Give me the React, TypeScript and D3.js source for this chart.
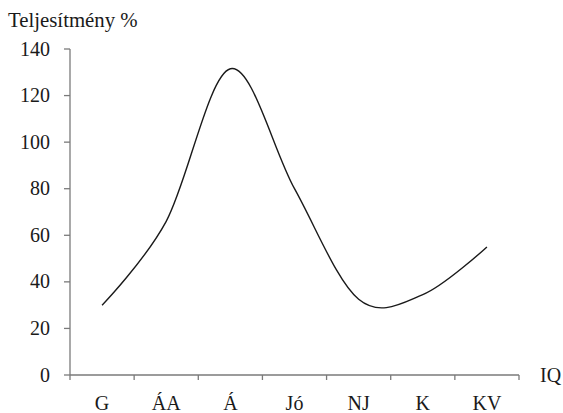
import React from "react";
import * as d3 from "d3";

const categories = ["G", "ÁA", "Á", "Jó", "NJ", "K", "KV"];
const values = [30, 66, 131.5, 80, 32.5, 34.5, 55];
const yTicks = [0, 20, 40, 60, 80, 100, 120, 140];
const yTitle = "Teljesítmény %";
const xTitle = "IQ";

const W = 563;
const H = 413;
const left = 70;
const right = 519;
const bottom = 375;
const top = 49;
const font = "Liberation Serif";

export default function App() {
  const x = d3.scaleBand<string>().domain(categories).range([left, right]).paddingInner(0).paddingOuter(0);
  const y = d3.scaleLinear().domain([0, 140]).range([bottom, top]);
  const cx = (c: string) => (x(c) as number) + x.bandwidth() / 2;
  const line = d3
    .line<number>()
    .x((_, i) => cx(categories[i]))
    .y((d) => y(d))
    .curve(d3.curveCardinal.tension(0));
  const xTickPos = [...categories.map((c) => x(c) as number), right];
  const axisColor = "#7a7a7a";
  const ts = { fontFamily: font };
  return (
    <svg width={W} height={H} style={{ position: "absolute", left: 0, top: 0, background: "#fff" }}>
      <text x={8} y={27} style={ts} fontSize={20.8} fill="#1a1a1a">
        {yTitle}
      </text>
      <line x1={left} x2={left} y1={top} y2={bottom} stroke={axisColor} strokeWidth={1.3} />
      {yTicks.map((t) => (
        <g key={t}>
          <line x1={left - 6} x2={left} y1={y(t)} y2={y(t)} stroke={axisColor} strokeWidth={1.3} />
          <text x={50} y={y(t)} dy="0.33em" textAnchor="end" style={ts} fontSize={20} fill="#1a1a1a">
            {t}
          </text>
        </g>
      ))}
      <line x1={left} x2={right} y1={bottom} y2={bottom} stroke={axisColor} strokeWidth={1.3} />
      {xTickPos.map((p, i) => (
        <line key={i} x1={p} x2={p} y1={bottom} y2={bottom + 5} stroke={axisColor} strokeWidth={1.3} />
      ))}
      {categories.map((c) => (
        <text key={c} x={cx(c)} y={410} textAnchor="middle" style={ts} fontSize={20} fill="#1a1a1a">
          {c}
        </text>
      ))}
      <text x={540} y={382} style={ts} fontSize={20} fill="#1a1a1a">
        {xTitle}
      </text>
      <path d={line(values) as string} fill="none" stroke="#1a1a1a" strokeWidth={1.4} />
    </svg>
  );
}
